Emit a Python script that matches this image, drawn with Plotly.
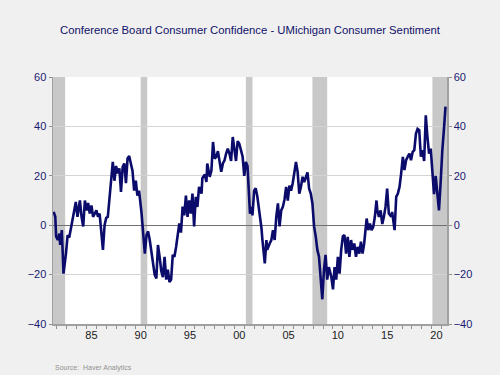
import plotly.graph_objects as go

# ---- data ----
dates = [
 "1981-09","1981-11","1981-12","1982-02","1982-04","1982-05","1982-07","1982-09","1982-12",
 "1983-02","1983-04","1983-06","1983-10","1983-12","1984-02","1984-05","1984-07","1984-09","1984-11",
 "1985-01","1985-03","1985-05","1985-07","1985-09","1986-01","1986-03","1986-05","1986-07","1986-09","1986-11",
 "1987-01","1987-03","1987-05","1987-07","1987-09","1987-11","1988-01","1988-03","1988-05","1988-07","1988-09","1988-11",
 "1989-01","1989-03","1989-05","1989-07","1989-09","1989-11","1990-01","1990-03","1990-05","1990-08","1990-10","1990-12",
 "1991-02","1991-04","1991-06","1991-08","1991-10","1991-12","1992-02","1992-04","1992-06","1992-08","1992-10","1992-12",
 "1993-02","1993-04","1993-06","1993-08","1993-10","1993-12","1994-02","1994-04","1994-06","1994-08","1994-10","1994-12",
 "1995-02","1995-04","1995-06","1995-08","1995-10","1995-12","1996-02","1996-04","1996-06","1996-09","1996-10",
 "1997-01","1997-03","1997-04","1997-07","1997-09","1997-11","1998-01","1998-03","1998-05","1998-07","1998-09","1998-11",
 "1999-01","1999-03","1999-05","1999-07","1999-09","1999-11","2000-01","2000-03","2000-05","2000-07","2000-09","2000-11",
 "2001-01","2001-03","2001-05","2001-07","2001-08","2001-10","2001-11","2002-01","2002-03","2002-05","2002-07","2002-09",
 "2002-10","2002-11","2003-01","2003-02","2003-04","2003-05","2003-08","2003-10","2003-12","2004-02","2004-04","2004-06",
 "2004-08","2004-10","2004-12","2005-02","2005-04","2005-06","2005-08","2005-10","2005-12","2006-02","2006-04","2006-06",
 "2006-08","2006-10","2006-12","2007-02","2007-04","2007-06","2007-08","2007-10","2007-12","2008-02","2008-04","2008-06",
 "2008-08","2008-10","2008-12","2009-02","2009-04","2009-06","2009-08","2009-11","2010-01","2010-03","2010-05","2010-07",
 "2010-09","2010-11","2011-01","2011-03","2011-05","2011-07","2011-09","2011-11","2012-01","2012-03","2012-05","2012-07",
 "2012-09","2012-11","2013-01","2013-03","2013-05","2013-06","2013-08","2013-10","2013-12","2014-02","2014-04","2014-06",
 "2014-07","2014-09","2014-11","2015-01","2015-03","2015-05","2015-07","2015-09","2015-12","2016-01","2016-04","2016-06",
 "2016-08","2016-10","2016-12","2017-02","2017-04","2017-06","2017-08","2017-10","2017-12","2018-02","2018-04","2018-06",
 "2018-08","2018-10","2018-12","2019-02","2019-04","2019-06","2019-08","2019-10","2019-12","2020-02","2020-04","2020-06",
 "2020-08","2020-10","2020-12","2021-01","2021-02","2021-04","2021-06",
]
spread = [
 5.4,3.4,-4.5,-6,-3.4,-8,-2,-19.6,-11.5,
 -4,-5,-1,6,9.4,3.4,10,3.4,-0.5,10,
 6,9,4.7,8,3.4,6,3.4,4.7,-2,-10,0,
 3,3.4,11.5,20,25.6,18,24,21,23,13.5,23.6,25,
 17,27,28,25,22,14,18,12,14,5,-2,-11.5,
 -4,-2.5,-6,-11.5,-17,-20,-21.6,-8,-12.8,-18.5,-21,-12.8,
 -22,-18,-23,-22,-12,-12.8,-8.8,-3,0.7,-3,7.5,4,
 12,3.4,10,4.7,12.8,-0.5,11.5,7.4,15.5,12.8,19,
 20.5,17.5,25,19.6,22,33.7,27,27.7,30,26,21.6,25,
 26.3,29,31,29,26,35.7,31.7,26,34,33,30.4,27.7,
 20,25.6,24,14,4.7,7.4,4,14,15,11.5,6.7,0,
 -1.3,-5.5,-12.8,-15.5,-6,-10,-7.4,-6,-2,-6,3.4,8.8,
 -0.5,6,7.4,10.5,15.5,10,16,14,17,21,25.6,21.6,
 12.8,15.5,19.6,17.5,19.6,21.4,14.8,12.8,8.8,-0.5,-4.5,-10,
 -12.8,-22,-30,-18,-12,-22,-17,-21,-26,-17,-22,-12.8,
 -19.6,-10,-4.5,-4,-11.5,-4.7,-12.8,-6,-10,-7.4,-12.8,-8.8,
 -11.5,-6.7,-11.5,-7.4,-2,2.7,-2,0.7,-2,-0.7,3.4,10,
 6,3.4,6,0.5,3.4,7.4,14.8,4.7,3.4,5.4,-2,11.5,
 12.8,15.5,21,27.7,22.3,26.3,27.7,29,26.3,29.7,30.4,37,
 39,38.5,27.7,30.4,26,44.5,35.7,29,31,20,12.6,20,
 12.8,6,17,28,30,38.5,48,
]

recession_start = ["1981-07-01", "1990-07-01", "2001-03-01", "2007-12-01", "2020-02-01"]
recession_end   = ["1982-11-01", "1991-03-01", "2001-11-01", "2009-06-01", "2021-07-26"]

x_range = ["1981-08-08", "2021-07-26"]
label_years = [1985, 1990, 1995, 2000, 2005, 2010, 2015, 2020]
y_ticks = [-40, -20, 0, 20, 40, 60]

NAVY = "#10106a"
TICKC = "#1a1a70"
FONT = "Liberation Sans, Arial, sans-serif"

fig = go.Figure()
fig.add_trace(go.Scatter(x=dates, y=spread, mode="lines",
                         line=dict(color="#0b0b6b", width=2.6), showlegend=False))
# invisible trace for right axis
fig.add_trace(go.Scatter(x=[dates[0]], y=[spread[0]], yaxis="y2", mode="markers",
                         marker=dict(opacity=0), showlegend=False, hoverinfo="skip"))

for s, e in zip(recession_start, recession_end):
    fig.add_shape(type="rect", xref="x", yref="y", x0=s, x1=e, y0=-40, y1=60,
                  fillcolor="#c8c8c8", line=dict(width=0), layer="below")

axis_font = dict(family=FONT, size=11, color=TICKC)
yax = dict(range=[-40, 60], tickvals=y_ticks, ticks="outside", ticklen=3,
           tickcolor="#909090", tickfont=axis_font, showgrid=True, gridcolor="#d4d4d4",
           gridwidth=1, zeroline=True, zerolinecolor="#707070", zerolinewidth=1.2,
           showline=True, linecolor="#a0a0a0", linewidth=1.5, fixedrange=True)

fig.update_layout(
    width=500, height=375,
    margin=dict(l=53, r=53, t=77, b=51),
    paper_bgcolor="#f0f0f0", plot_bgcolor="white",
    title=dict(text="Conference Board Consumer Confidence - UMichigan Consumer Sentiment",
               x=0.5, xanchor="center", y=0.92, yanchor="middle",
               font=dict(family=FONT, size=11.3, color=NAVY)),
    xaxis=dict(range=x_range, type="date",
               tickmode="array", tickvals=[f"{y}-07-01" for y in label_years],
               ticktext=[f"{y % 100:02d}" for y in label_years],
               ticks="", tickfont=dict(family=FONT, size=11, color="#202020"),
               showgrid=False, showline=True, linecolor="#a0a0a0", linewidth=1.5,
               minor=dict(tickmode="array", tickvals=[f"{y}-01-01" for y in range(1982, 2022)],
                          ticks="outside", ticklen=3, tickcolor="#909090", showgrid=False)),
    yaxis=dict(**yax, side="left"),
    yaxis2=dict(**yax, side="right", overlaying="y"),
    annotations=[dict(text="Source:  Haver Analytics", xref="paper", yref="paper",
                      x=0.0, y=-0.155, xanchor="left", yanchor="top", showarrow=False,
                      font=dict(family=FONT, size=7, color="#909090"))],
)
fig.update_layout(yaxis2_showgrid=False)

fig.write_html("out.html", config={"displayModeBar": False, "staticPlot": True},
               post_script="document.body.style.margin='0';")
